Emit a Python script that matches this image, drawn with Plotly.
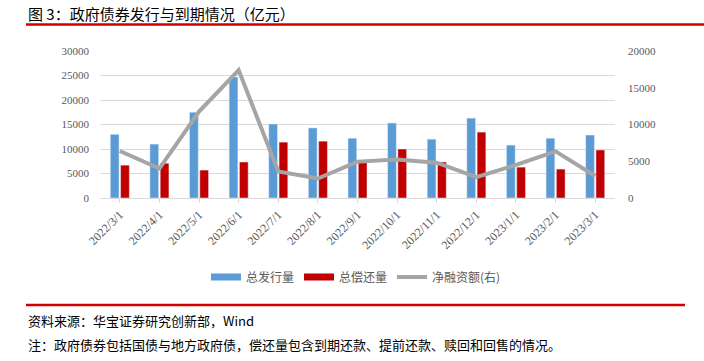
import plotly.graph_objects as go

categories = ["2022/3/1", "2022/4/1", "2022/5/1", "2022/6/1", "2022/7/1", "2022/8/1",
              "2022/9/1", "2022/10/1", "2022/11/1", "2022/12/1", "2023/1/1", "2023/2/1", "2023/3/1"]
issuance = [13000, 11000, 17500, 24700, 15100, 14300, 12200, 15300, 12000, 16300, 10800, 12200, 12850]
repayment = [6700, 7100, 5700, 7350, 11400, 11600, 7200, 10000, 7350, 13450, 6300, 5900, 9800]
net_financing = [6400, 4000, 11750, 17400, 3600, 2650, 4950, 5250, 4800, 2850, 4500, 6350, 3000]

left_ticks = [0, 5000, 10000, 15000, 20000, 25000, 30000]
right_ticks = [0, 5000, 10000, 15000, 20000]

BLUE = "#5B9BD5"
RED = "#C00000"
GRAY = "#A5A5A5"
TXT = "#595959"
CJK = "Noto Sans CJK SC"

fig = go.Figure()
fig.add_trace(go.Bar(x=categories, y=issuance, name="总发行量", marker_color=BLUE,
                     showlegend=False, yaxis="y"))
fig.add_trace(go.Bar(x=categories, y=repayment, name="总偿还量", marker_color=RED,
                     showlegend=False, yaxis="y"))
fig.add_trace(go.Scatter(x=categories, y=net_financing, name="净融资额(右)", mode="lines",
                         line=dict(color=GRAY, width=4), showlegend=False, yaxis="y2"))
# legend entries
for nm, col, w in [("总发行量", BLUE, 7), ("总偿还量", RED, 7), ("净融资额(右)", GRAY, 4)]:
    fig.add_trace(go.Scatter(x=[None], y=[None], name=nm, mode="lines",
                             line=dict(color=col, width=w), yaxis="y2"))

W, H = 704, 361
L, R, T, B = 100, 615, 51, 198

def px(x):
    return (x - L) / (R - L)

def py(y):
    return (B - y) / (B - T)

fig.update_layout(
    width=W, height=H,
    margin=dict(l=L, r=W - R, t=T, b=H - B),
    paper_bgcolor="white", plot_bgcolor="white",
    barmode="group", bargap=0.48, bargroupgap=0.15,
    font=dict(family=CJK, color=TXT, size=11),
    xaxis=dict(type="category", tickangle=-45, showline=True, linecolor="#D9D9D9",
               ticks="outside", ticklen=4, tickcolor="#D9D9D9",
               tickfont=dict(family="Liberation Serif, DejaVu Serif", size=12, color=TXT),
               showgrid=False),
    yaxis=dict(range=[0, 30000], tickvals=left_ticks, ticktext=[str(v) for v in left_ticks],
               showgrid=True, gridcolor="#D9D9D9", gridwidth=1, zeroline=False,
               tickfont=dict(family="Liberation Serif, DejaVu Serif", size=11, color=TXT),
               ticks="", ticklabelstandoff=10),
    yaxis2=dict(range=[0, 20000], tickvals=right_ticks, ticktext=[str(v) for v in right_ticks],
                overlaying="y", side="right", showgrid=False, zeroline=False,
                tickfont=dict(family="Liberation Serif, DejaVu Serif", size=11, color=TXT),
                ticks="", ticklabelstandoff=12),
    legend=dict(orientation="h", x=px(356), xanchor="center", y=py(277), yanchor="middle",
                font=dict(family=CJK, size=12, color=TXT), itemwidth=30,
                tracegroupgap=0, bgcolor="rgba(0,0,0,0)"),
    showlegend=True,
)

fig.add_annotation(text="图 3：政府债券发行与到期情况（亿元）", xref="paper", yref="paper",
                   x=px(26), y=py(14), xanchor="left", yanchor="middle", showarrow=False,
                   font=dict(family=CJK, size=15, color="#000000"))
fig.add_shape(type="line", xref="paper", yref="paper", x0=px(26), x1=px(704), y0=py(24.5), y1=py(24.5),
              line=dict(color="#D00000", width=2.5))
fig.add_shape(type="line", xref="paper", yref="paper", x0=px(26), x1=px(685), y0=py(305), y1=py(305),
              line=dict(color="#D00000", width=2.5))
fig.add_annotation(text="资料来源：华宝证券研究创新部，Wind", xref="paper", yref="paper",
                   x=px(26), y=py(320), xanchor="left", yanchor="middle", showarrow=False,
                   font=dict(family=CJK, size=13, color="#000000"))
fig.add_annotation(text="注：政府债券包括国债与地方政府债，偿还量包含到期还款、提前还款、赎回和回售的情况。",
                   xref="paper", yref="paper",
                   x=px(26), y=py(344), xanchor="left", yanchor="middle", showarrow=False,
                   font=dict(family=CJK, size=13, color="#000000"))

fig.write_html("out.html", config={"displayModeBar": False},
               post_script="document.body.style.margin='0';document.body.style.padding='0';")
